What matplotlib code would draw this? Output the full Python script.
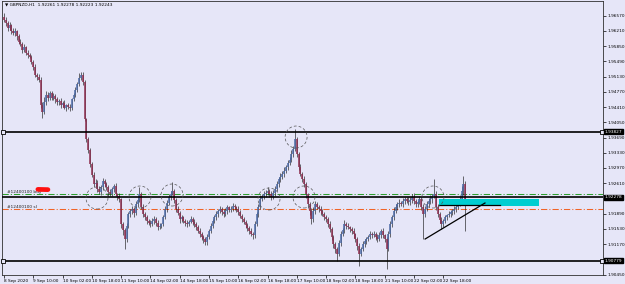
import matplotlib
matplotlib.use("Agg")
import matplotlib.pyplot as plt
from matplotlib.patches import Ellipse, Rectangle
import numpy as np

# GBPNZD H1 closes, in points of 0.0001
closes = [
    19647, 19640, 19628, 19634, 19622, 19616, 19620, 19608, 19595, 19590,
    19576, 19582, 19570, 19565, 19560, 19548, 19536, 19517, 19512, 19506,
    19447, 19430, 19452, 19470, 19462, 19475, 19463, 19468, 19459, 19452,
    19456, 19447, 19450, 19440, 19446, 19442, 19438, 19459, 19470, 19482,
    19495, 19510, 19518, 19501, 19412, 19365, 19340, 19306, 19280, 19258,
    19262, 19247, 19240, 19251, 19266, 19258, 19252, 19240, 19236, 19247,
    19255, 19235, 19230, 19223, 19164, 19150, 19129, 19160, 19188, 19195,
    19200, 19190, 19211, 19222, 19235, 19205, 19188, 19180, 19171, 19168,
    19164, 19172, 19176, 19168, 19157, 19160, 19164, 19182, 19200, 19215,
    19228, 19236, 19242, 19222, 19200, 19190, 19176, 19180, 19171, 19168,
    19164, 19170, 19176, 19170, 19164, 19158, 19148, 19140, 19134, 19128,
    19122, 19135, 19148, 19160, 19171, 19180, 19188, 19195, 19200, 19194,
    19188, 19196, 19204, 19198, 19200, 19208, 19204, 19200, 19192, 19184,
    19176, 19170, 19162, 19155, 19148, 19142, 19138, 19165, 19188, 19205,
    19223, 19230, 19235, 19238, 19242, 19236, 19228, 19238, 19247, 19258,
    19270, 19276, 19282, 19290, 19299, 19308, 19317, 19330, 19341, 19365,
    19329, 19300, 19282, 19270, 19258, 19235, 19211, 19195, 19176, 19195,
    19211, 19205, 19200, 19195, 19188, 19182, 19176, 19165, 19153, 19135,
    19117, 19105, 19094, 19120, 19141, 19150, 19164, 19160, 19157, 19152,
    19148, 19140, 19129, 19112, 19094, 19105, 19117, 19124, 19129, 19135,
    19141, 19138, 19141, 19135, 19129, 19138, 19148, 19138, 19129, 19106,
    19140, 19164, 19180, 19195, 19205, 19211, 19215, 19211, 19218, 19223,
    19220, 19216, 19222, 19228, 19218, 19211, 19216, 19223, 19205, 19188,
    19200, 19211, 19218, 19223, 19230, 19235, 19205, 19188, 19175, 19164,
    19172, 19181, 19185, 19188, 19192, 19195, 19200, 19204, 19212, 19223,
    19242, 19258, 19224,
]
first_open = 19655

# upper / lower shadow lengths, points
wick_up = [
    8, 6, 5, 9, 4, 6, 7, 3, 5, 6,
    5, 8, 4, 6, 3, 5, 4, 6, 5, 7,
    6, 5, 12, 8, 6, 5, 4, 7, 5, 6,
    4, 6, 5, 7, 3, 5, 6, 4, 5, 7,
    6, 12, 5, 6, 4, 3, 5, 4, 6, 7,
    9, 6, 8, 5, 7, 6, 5, 4, 8, 6,
    5, 6, 4, 7, 4, 5, 6, 8, 6, 5,
    7, 5, 8, 6, 16, 5, 6, 4, 5, 6,
    5, 6, 7, 4, 5, 6, 4, 5, 7, 6,
    8, 6, 21, 5, 4, 6, 5, 7, 4, 5,
    6, 5, 7, 4, 6, 5, 4, 6, 5, 4,
    5, 6, 4, 7, 5, 6, 8, 5, 6, 4,
    5, 7, 6, 4, 8, 6, 5, 4, 6, 5,
    4, 6, 5, 4, 5, 6, 4, 7, 6, 8,
    9, 6, 8, 7, 10, 5, 6, 8, 7, 9,
    6, 8, 7, 9, 6, 8, 7, 10, 8, 23,
    5, 6, 7, 5, 8, 6, 4, 5, 7, 9,
    8, 6, 5, 7, 4, 6, 5, 4, 6, 5,
    4, 5, 6, 7, 8, 6, 9, 5, 6, 4,
    5, 6, 4, 5, 7, 6, 8, 5, 6, 4,
    6, 5, 7, 4, 6, 8, 5, 6, 4, 5,
    7, 8, 6, 9, 7, 6, 8, 5, 7, 6,
    5, 8, 6, 7, 9, 6, 5, 8, 6, 7,
    8, 9, 7, 10, 6, 35, 8, 6, 5, 7,
    5, 6, 4, 7, 5, 6, 8, 7, 6, 9,
    12, 19, 8,
]
wick_dn = [
    5, 7, 6, 4, 8, 5, 6, 9, 5, 4,
    7, 5, 6, 8, 4, 6, 7, 5, 6, 5,
    8, 14, 6, 5, 7, 4, 6, 5, 8, 6,
    5, 7, 6, 4, 8, 5, 6, 5, 4, 6,
    5, 4, 6, 7, 5, 6, 8, 7, 5, 6,
    7, 6, 5, 8, 6, 5, 7, 9, 6, 5,
    6, 5, 8, 7, 9, 12, 23, 6, 5, 7,
    6, 8, 5, 7, 6, 5, 8, 6, 7, 5,
    6, 5, 7, 8, 6, 5, 6, 4, 5, 6,
    5, 6, 4, 7, 6, 5, 8, 6, 5, 7,
    6, 5, 4, 7, 6, 8, 5, 6, 7, 9,
    8, 6, 5, 4, 6, 5, 7, 6, 5, 8,
    6, 5, 7, 6, 4, 5, 6, 8, 5, 6,
    7, 5, 6, 8, 6, 5, 9, 6, 5, 7,
    6, 5, 7, 6, 5, 8, 6, 5, 7, 4,
    5, 6, 4, 7, 5, 6, 4, 5, 6, 5,
    6, 8, 5, 7, 6, 9, 8, 10, 12, 6,
    7, 5, 6, 8, 5, 7, 6, 8, 7, 9,
    8, 10, 17, 6, 7, 5, 6, 8, 5, 7,
    6, 8, 7, 9, 28, 6, 5, 7, 6, 5,
    6, 7, 5, 8, 6, 5, 7, 6, 8, 47,
    6, 5, 7, 6, 5, 8, 6, 5, 7, 6,
    5, 7, 6, 8, 5, 6, 7, 5, 8, 59,
    6, 5, 7, 6, 8, 5, 7, 6, 9, 11,
    6, 5, 7, 4, 6, 5, 6, 7, 5, 6,
    5, 8, 76,
]

time_labels = ["8 Sep 2020", "9 Sep 10:00", "10 Sep 02:00", "10 Sep 18:00",
               "11 Sep 10:00", "14 Sep 02:00", "14 Sep 18:00", "15 Sep 10:00",
               "16 Sep 02:00", "16 Sep 18:00", "17 Sep 10:00", "18 Sep 02:00",
               "18 Sep 18:00", "21 Sep 10:00", "22 Sep 02:00", "22 Sep 18:00"]
price_ticks = [1.96570, 1.96210, 1.95850, 1.95490, 1.95130, 1.94770, 1.94410,
               1.94050, 1.93690, 1.93330, 1.92970, 1.92610, 1.91890, 1.91530,
               1.91170, 1.90450]

levels = [1.93827, 1.92278, 1.90779]
buy_level = 1.92348
sl_level = 1.92000
order_name = "#12400100"
title = "\u25bc GBPNZD,H1  1.92261 1.92278 1.92223 1.92243"

# marked swing points (bar, price)
circle_bars = [50.8, 74.3, 91.8, 159.6, 144.8, 163.9, 234.4]
circle_prices = [1.92260, 1.92284, 1.92331, 1.93702, 1.92237, 1.92284, 1.92284]

zone_bars = [237.7, 292.3]
zone_prices = [1.92071, 1.92237]
trend_bars = [230.1, 262.8]
trend_prices = [1.91291, 1.92142]
zone_line_bars = [237.7, 271.0]
zone_line_price = 1.92090

plt.rcParams["font.family"] = ["DejaVu Sans"]
bg = "#E6E6F8"
fs = 3.1

fig = plt.figure(figsize=(6.25, 2.84), dpi=100, facecolor=bg)
ax = fig.add_axes([2/625, 1 - 275/284, 601/625, 274/284])
ax.set_facecolor(bg)

c = np.array(closes) / 1e4
o = np.r_[first_open, closes[:-1]] / 1e4
hi = np.maximum(o, c) + np.array(wick_up) / 1e4
lo = np.minimum(o, c) - np.array(wick_dn) / 1e4
x = np.arange(len(c))

ax.vlines(x, lo, hi, color="#1c1c1c", lw=0.45, zorder=3)
bull = c >= o
ax.vlines(x[bull], o[bull], c[bull], color="#4c6aa6", lw=1.1, zorder=4)
ax.vlines(x[~bull], c[~bull], o[~bull], color="#8c2c4e", lw=1.1, zorder=4)

# horizontal levels
for lv in levels:
    ax.axhline(lv, color="black", lw=1.2, zorder=5)
for lv in (levels[0], levels[2]):
    ax.plot([-0.6, 326.8], [lv, lv], ls="none", marker="s", ms=2.2,
            mfc=bg, mec="black", mew=0.6, zorder=6, clip_on=False)

ax.axhline(buy_level, color="#2ea02e", lw=0.75, ls=(0, (6, 2, 1, 2)), zorder=2)
ax.axhline(sl_level, color="#f06428", lw=0.75, ls=(0, (6, 2, 1, 2)), zorder=2)
ax.text(1.5, buy_level + 0.0001, order_name + " buy", fontsize=fs,
        va="bottom", ha="left", color="#202020")
ax.text(1.5, sl_level + 0.0001, order_name + " sl", fontsize=fs,
        va="bottom", ha="left", color="#202020")
ax.plot([18.5, 24.0], [1.92464, 1.92458], color="#ff1010", lw=3.4,
        solid_capstyle="round", zorder=6)

# zone, trend line
ax.add_patch(Rectangle((zone_bars[0], zone_prices[0]), zone_bars[1] - zone_bars[0],
                       zone_prices[1] - zone_prices[0], fc="#00CED1", ec="none", zorder=4))
ax.plot(zone_line_bars, [zone_line_price] * 2, color="black", lw=0.9, zorder=5)
ax.plot(trend_bars, trend_prices, color="black", lw=0.9, zorder=5)

for cb, cp in zip(circle_bars, circle_prices):
    ax.add_patch(Ellipse((cb, cp), 12.0, 0.0052, fill=False, ec="#555555",
                         lw=0.5, ls=(0, (4, 3)), zorder=6))

ax.set_xlim(-1.1, 327.3)
ax.set_ylim(1.9044, 1.96918)

ax.yaxis.tick_right()
ax.set_yticks(price_ticks)
ax.set_yticklabels(["%.5f" % p for p in price_ticks])
ax.set_xticks(range(0, 16 * len(time_labels), 16))
ax.set_xticklabels(time_labels)
for lbl in ax.get_xticklabels():
    lbl.set_ha("left")
ax.tick_params(axis="y", length=2, width=0.5, pad=1, labelsize=fs, colors="black")
ax.tick_params(axis="x", length=2, width=0.5, pad=1, labelsize=fs, colors="black")
for sp in ax.spines.values():
    sp.set_color("#303030")
    sp.set_linewidth(0.6)

for lv in levels:
    ax.text(1.003, lv, "%.5f" % lv, transform=ax.get_yaxis_transform(),
            color="white", fontsize=fs, va="center", ha="left", zorder=10,
            bbox=dict(boxstyle="square,pad=0.12", fc="black", ec="black"))

fig.text(5/625, 1 - 5/284, title, fontsize=fs, va="center", ha="left", color="black")

fig.savefig("out.png", dpi=100, facecolor=bg)
